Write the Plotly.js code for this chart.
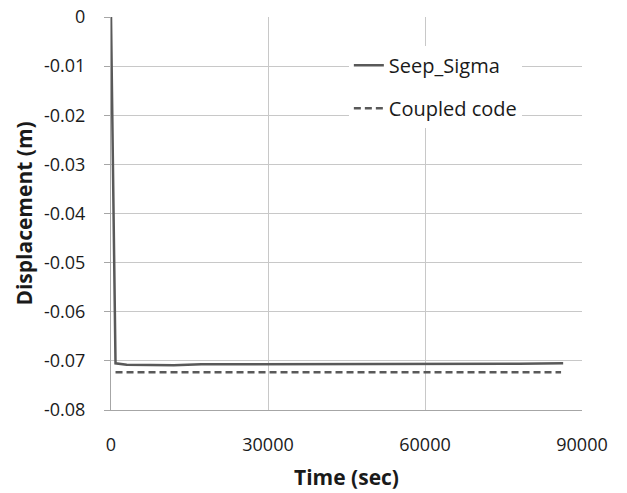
<!DOCTYPE html>
<html>
<head>
<meta charset="utf-8">
<script src="https://cdn.plot.ly/plotly-3.0.1.min.js"></script>
<style>html,body{margin:0;padding:0;background:#fff;}#chart{width:627px;height:493px;}</style>
</head>
<body>
<div id="chart"></div>
<script>
// Data
const seepTime = [0, 864, 3000, 8000, 12000, 17280, 30000, 45000, 60000, 70000, 78000, 86400];
const seepDisp = [0, -0.0705, -0.0708, -0.0709, -0.0709, -0.0707, -0.0707, -0.0707, -0.0707, -0.0706, -0.0706, -0.0705];
const coupledTime = [864, 20000, 40000, 60000, 86000];
const coupledDisp = [-0.0723, -0.0723, -0.0723, -0.0723, -0.0723];
const yTickVals = [0, -0.01, -0.02, -0.03, -0.04, -0.05, -0.06, -0.07, -0.08];
const yTickText = ["0", "-0.01", "-0.02", "-0.03", "-0.04", "-0.05", "-0.06", "-0.07", "-0.08"];
const xTickVals = [0, 30000, 60000, 90000];
const xTickText = ["0", "30000", "60000", "90000"];

const font = "'Open Sans', 'Liberation Sans', sans-serif";
const traces = [
  {x: seepTime, y: seepDisp, name: "Seep_Sigma", mode: "lines", legendgroup: "a",
   line: {color: "#595959", width: 2.5}},
  {x: coupledTime, y: coupledDisp, name: "Coupled code", mode: "lines", legendgroup: "b",
   line: {color: "#595959", width: 2.5, dash: "7px,4px"}}
];
const layout = {
  width: 627, height: 493,
  margin: {l: 111, r: 45, t: 17, b: 83},
  paper_bgcolor: "#fff", plot_bgcolor: "#fff",
  font: {family: font, size: 18, color: "#1a1a1a"},
  showlegend: true,
  legend: {x: 0.505, y: 0.927, xanchor: "left", yanchor: "top", bgcolor: "#fff",
           font: {family: font, size: 20, color: "#1a1a1a"}, tracegroupgap: 14,
           traceorder: "grouped"},
  xaxis: {range: [0, 90000], tickvals: xTickVals, ticktext: xTickText,
          showgrid: true, gridcolor: "#c8c8c8", gridwidth: 1, zeroline: false,
          showline: true, linecolor: "#a6a6a6", linewidth: 1, ticks: "",
          ticklabelstandoff: 18, tickfont: {size: 18},
          title: {text: "<b>Time (sec)</b>", font: {family: font, size: 21, color: "#1a1a1a"}, standoff: 15}},
  yaxis: {range: [-0.08, 0], tickvals: yTickVals, ticktext: yTickText,
          showgrid: true, gridcolor: "#c8c8c8", gridwidth: 1, zeroline: false,
          showline: true, linecolor: "#a6a6a6", linewidth: 1,
          ticks: "outside", ticklen: 6, tickcolor: "#a6a6a6", ticklabelstandoff: 15,
          tickfont: {size: 18},
          title: {text: "<b>Displacement (m)</b>", font: {family: font, size: 21, color: "#1a1a1a"}, standoff: 5}}
};
Plotly.newPlot("chart", traces, layout, {displayModeBar: false, staticPlot: true});
</script>
</body>
</html>
